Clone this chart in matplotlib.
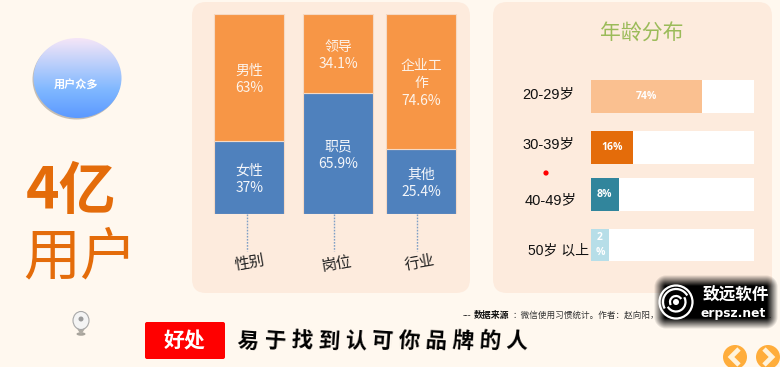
import matplotlib
matplotlib.use("Agg")
import matplotlib.pyplot as plt
import numpy as np
from matplotlib.patches import Arc, Circle, Ellipse, FancyBboxPatch, Polygon, Wedge

plt.rcParams["font.family"] = ["Noto Sans CJK SC", "DejaVu Sans"]

# stacked bars: segment heights as they are drawn, labels as they are printed
groups = ["性别", "岗位", "行业"]
blue_share = [36.6, 60.5, 32.5]
orange_share = [63.4, 39.5, 67.5]
blue_labels = ["女性\n37%", "职员\n65.9%", "其他\n25.4%"]
orange_labels = ["男性\n63%", "领导\n34.1%", "企业工\n作\n74.6%"]

# age panel: drawn bar lengths differ from the printed percentages
age_groups = ["20-29岁", "30-39岁", "40-49岁", "50岁 以上"]
age_lengths = [68.0, 25.6, 17.0, 11.0]
age_labels = ["74%", "16%", "8%", "2\n%"]
age_colors = ["#FAC090", "#E46C0A", "#31859C", "#B7DEE8"]

BG = "#FFF8EF"
PANEL = "#FDEBDD"
ORANGE = "#E46C0A"
W, H = 780, 367


def px_axes(fig, x0, y0, x1, y1):
    """Axes placed by reference pixel box (y measured from the top)."""
    return fig.add_axes([x0 / W, 1 - y1 / H, (x1 - x0) / W, (y1 - y0) / H])


fig = plt.figure(figsize=(7.8, 3.67), dpi=100, facecolor=BG)

# ---- page layer, in pixel coordinates ----
bg = fig.add_axes([0, 0, 1, 1])
bg.set_xlim(0, W)
bg.set_ylim(H, 0)
bg.axis("off")

for x0, x1 in [(192, 470), (493, 772)]:
    bg.add_patch(FancyBboxPatch((x0 + 14, 16), x1 - x0 - 28, 263,
                                boxstyle="round,pad=14,rounding_size=14",
                                fc=PANEL, ec="none"))

# gradient button
bg.add_patch(Ellipse((76.5, 79.5), 88, 80, fc="#8C8478", ec="none", alpha=0.5))
grad = np.linspace(0, 1, 80)[:, None]
top = np.array([0.96, 0.90, 0.97])
mid = np.array([0.50, 0.72, 1.0])
bot = np.array([0.36, 0.60, 1.0])
img = np.where(grad[..., None] < 0.65,
               top + (mid - top) * grad[..., None] / 0.65,
               mid + (bot - mid) * (grad[..., None] - 0.65) / 0.35)
im = bg.imshow(img, extent=(33, 122, 118, 38), aspect="auto", zorder=2)
clip = Ellipse((77.5, 78), 88, 80, transform=bg.transData, fc="none", ec="none")
bg.add_patch(clip)
im.set_clip_path(clip)
bg.set_xlim(0, W)
bg.set_ylim(H, 0)
bg.text(76, 84.5, "用户众多", color="white", fontsize=8, fontweight="bold",
        ha="center", va="center", zorder=3)

bg.text(26, 192, "4亿", color=ORANGE, fontsize=41, fontweight="bold",
        ha="left", va="center")
bg.text(23, 258, "用户", color=ORANGE, fontsize=41, ha="left", va="center")

# pin icon
bg.add_patch(Ellipse((81, 334), 9, 3.5, fc="#A8A49C", ec="none"))
bg.add_patch(Polygon([(76, 327), (86, 327), (81, 335)], fc="#B0ACA4", ec="none"))
bg.add_patch(Ellipse((81, 320.5), 16, 18, fc="#F4F4F4", ec="#A8A8A8", lw=0.8))
bg.add_patch(Circle((81, 319), 2.5, fc="#9A9A9A", ec="none"))

# dotted leaders and rotated group names
for x, name, yt in zip([246.5, 333.5, 417], groups, [263, 264, 263]):
    bg.plot([x, x], [214, 251], color="#7F9FC6", lw=1, ls=(0, (1.2, 1)))
    bg.text(x + 3, yt, name, rotation=10, fontsize=11,
            color="#222222", ha="center", va="center")

# age title and row names
bg.text(642, 34, "年龄分布", color="#9BBB59", fontsize=15, ha="center", va="center")
for x, y, name, fs in zip([522, 522, 525, 528], [94, 144, 200, 251], age_groups,
                          [10.5, 10.5, 10.5, 10]):
    bg.text(x, y, name, fontsize=fs, color="#111111", ha="left", va="center",
            family=["Liberation Sans", "Noto Sans CJK SC"])
bg.add_patch(Circle((546, 173), 2.6, fc="#FF0000", ec="none"))

# source line, its tail runs under the watermark
bg.text(463, 315.5, "---", fontsize=6, color="#222222", ha="left", va="center")
bg.text(474, 315.5, "数据来源", fontsize=6.4, fontweight="bold", color="#111111",
        ha="left", va="center")
bg.text(512, 315.5, "：微信使用习惯统计。作者：赵向阳，", fontsize=6.2, color="#333333",
        ha="left", va="center")
bg.text(768, 316, ".", fontsize=6.2, color="#333333", ha="left", va="center")

# red tag and brush slogan
bg.add_patch(FancyBboxPatch((146, 323), 78, 35, boxstyle="round,pad=1,rounding_size=2",
                            fc="#FF0000", ec="none"))
bg.text(185, 341, "好处", color="white", fontsize=15, fontweight="bold",
        ha="center", va="center")
for i, ch in enumerate("易于找到认可你品牌的人"):
    bg.text(248 + i * 26.9, 341, ch, fontsize=15.5, fontweight="bold", color="black",
            ha="center", va="center", rotation=-4)

# nav buttons
for x, sign in [(735, -1), (768, 1)]:
    bg.add_patch(Circle((x, 357), 12, fc="#FFAD3B", ec="none"))
    bg.plot([x - sign * 4, x + sign * 4, x - sign * 4], [349, 357, 365],
            color="#FFF3DC", lw=3.4, solid_capstyle="butt", solid_joinstyle="miter")

# watermark
yy, xx = np.mgrid[0:70, 0:140]
d = np.maximum(np.abs(xx - 69.5) - 50, 0) ** 2 + np.maximum(np.abs(yy - 34.5) - 15, 0) ** 2
alpha = np.clip(1.1 - np.sqrt(d) / 11, 0, 1)
wm = np.zeros((70, 140, 4))
wm[..., 3] = alpha
bg.imshow(wm, extent=(646, 786, 337, 267), aspect="auto", zorder=6)
bg.set_xlim(0, W)
bg.set_ylim(H, 0)
bg.add_patch(Circle((676, 302), 16.5, fc="none", ec="white", lw=1.6, zorder=7))
for r, a0, a1 in [(13, 150, 330), (9.5, 330, 150), (6, 150, 330)]:
    bg.add_patch(Arc((676, 302), 2 * r, 2 * r, theta1=a0, theta2=a1,
                     color="white", lw=1.6, zorder=7))
bg.add_patch(Wedge((676, 302), 3, 0, 360, fc="white", ec="none", zorder=7))
bg.text(735.5, 295.5, "致远软件", color="white", fontsize=12, fontweight="bold",
        ha="center", va="center", zorder=7)
bg.text(733, 313, "erpsz.net", color="white", fontsize=8.8, fontweight="bold",
        ha="center", va="center", zorder=7, family="DejaVu Sans")

# ---- stacked bars ----
ax = px_axes(fig, 190, 14, 480, 214)
ax.patch.set_alpha(0)
ax.set_xlim(190, 480)
ax.set_ylim(0, 100)
ax.axis("off")
centers = [249.3, 338, 421.3]
edge = "#F5D9C4"
ax.bar(centers, blue_share, width=70, color="#4F81BD", edgecolor=edge, linewidth=0.8)
ax.bar(centers, orange_share, width=70, bottom=blue_share, color="#F79646",
       edgecolor=edge, linewidth=0.8)
for cx, b, o, bl, ol in zip(centers, blue_share, orange_share, blue_labels, orange_labels):
    ax.text(cx, b / 2 - 1, bl, color="#F4F6FA", fontsize=10, ha="center", va="center",
            linespacing=1.35)
    ax.text(cx, b + o / 2 - 1, ol, color="#FDF3EA", fontsize=10, ha="center", va="center",
            linespacing=1.35)

# ---- age bars, y axis is reference pixels so the uneven rows stay put ----
ax2 = px_axes(fig, 591, 70, 754, 270)
ax2.patch.set_alpha(0)
ax2.set_xlim(0, 100)
ax2.set_ylim(270, 70)
ax2.axis("off")
rows = [96.3, 147.5, 194.3, 245]
ax2.barh(rows, [100] * 4, height=32.5, color="white", edgecolor="none")
ax2.barh(rows, age_lengths, height=32.5, color=age_colors, edgecolor="none")
for y, length, lab in zip(rows, age_lengths, age_labels):
    ax2.text(length / 2, y, lab, color="white", fontsize=7.5, fontweight="bold",
             ha="center", va="center", linespacing=1.5,
             family=["Open Sans", "Noto Sans CJK SC"])

fig.savefig("out.png", dpi=100, facecolor=BG)
